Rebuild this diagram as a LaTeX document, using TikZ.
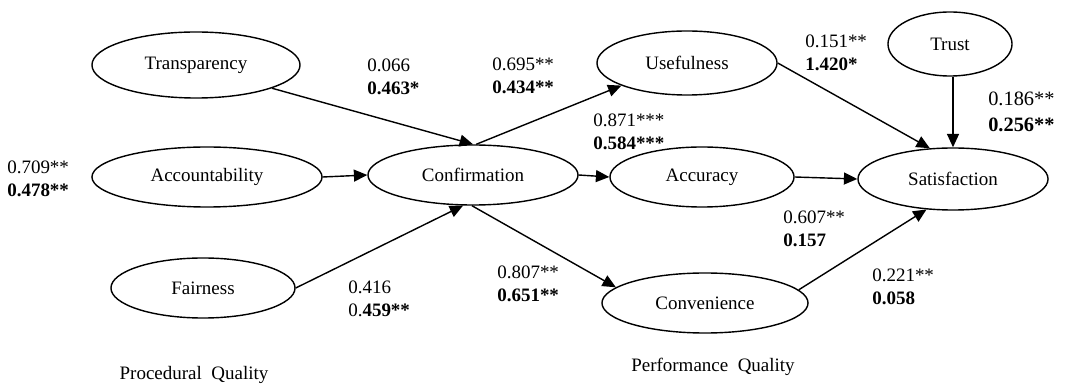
\documentclass[tikz,border=0pt]{standalone}
\usepackage{fontspec}
\setmainfont{Liberation Serif}
\usetikzlibrary{shapes.geometric,arrows.meta}

\tikzset{
  construct/.style 2 args={ellipse, draw, line width=1pt, inner sep=0pt,
    minimum width=#1*0.05cm, minimum height=#2*0.05cm,
    font=\fontsize{13.5}{15.5}\selectfont},
  path/.style={line width=1pt, -{Triangle[length=9.5pt,width=8.5pt]}},
  coef/.style={anchor=west, align=left, inner sep=0pt,
    font=\fontsize{13.5}{16.4}\selectfont},
  bigcoef/.style={coef, font=\fontsize{14.5}{18.5}\selectfont},
  caption/.style={inner sep=0pt, font=\fontsize{13.5}{15.5}\selectfont}
}

\begin{document}
\begin{tikzpicture}[x=0.025cm, y=-0.025cm]
\useasboundingbox (0,0) rectangle (1072,385);

% constructs (centre, half axes in px)
\node[construct={104}{33}] (transp)  at (196,65)  {Transparency};
\node[construct={115}{30}] (account) at (207,177) {Accountability};
\node[construct={92}{30}]  (fair)    at (203,288) {Fairness};
\node[construct={105}{30}] (conf)    at (473,175) {Confirmation};
\node[construct={90}{32}]  (useful)  at (687,63)  {Usefulness};
\node[construct={92}{30}]  (accur)   at (702,177) {Accuracy};
\node[construct={103}{30}] (conv)    at (705,303) {Convenience};
\node[construct={95}{31}]  (satis)   at (953,179) {Satisfaction};
\node[construct={62}{32}]  (trust)   at (950,44)  {Trust};

% structural paths
\draw[path] (transp.-17) -- (conf.north);
\draw[path] (account.east) -- (conf.west);
\draw[path] (fair.east) -- (conf.-108);
\draw[path] (conf.84) -- (useful.-161);
\draw[path] (conf.east) -- (accur.west);
\draw[path] (conf.-92) -- (conv.170);
\draw[path] (useful.east) -- (satis.127);
\draw[path] (accur.east) -- (satis.west);
\draw[path] (conv.8) -- (satis.-131);
\draw[path] (trust.south -| satis.north) -- (satis.north);

% path coefficients
\node[coef] (c1) at (7,178.5)   {0.709**\\\textbf{0.478**}};
\node[coef] (c2) at (367,76.5)  {0.066\\\textbf{0.463*}};
\node[coef] (c3) at (492,75.5)  {0.695**\\\textbf{0.434**}};
\node[coef] (c4) at (593,131.5) {0.871***\\\textbf{0.584***}};
\node[coef] (c5) at (805,52.5)  {0.151**\\\textbf{1.420*}};
\node[bigcoef] (c6) at (988,111.5) {0.186**\\\textbf{0.256**}};
\node[coef] (c7) at (348,298.5) {0.416\\0.\textbf{459**}};
\node[coef] (c8) at (497,283.5) {0.807**\\\textbf{0.651**}};
\node[coef] (c9) at (783,228.5) {0.607**\\\textbf{0.157}};
\node[coef] (c10) at (872,286.5) {0.221**\\\textbf{0.058}};

% group captions
\node[caption] (proc) at (194,375) {Procedural\ \ Quality};
\node[caption] (perf) at (713,367) {Performance\ \ Quality};
\end{tikzpicture}
\end{document}
